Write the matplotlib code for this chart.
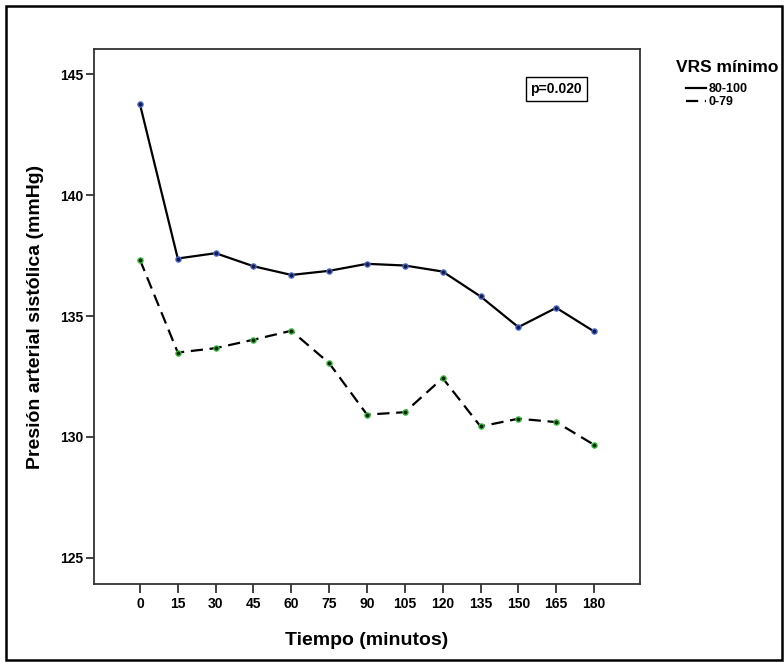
import matplotlib
matplotlib.use("Agg")
import matplotlib.pyplot as plt
from matplotlib.patches import Rectangle
from matplotlib.lines import Line2D

plt.rcParams['font.family'] = ['Liberation Sans Narrow', 'Liberation Sans', 'DejaVu Sans']

tiempo = [0, 15, 30, 45, 60, 75, 90, 105, 120, 135, 150, 165, 180]
vrs_80_100 = [143.77, 137.38, 137.60, 137.06, 136.70, 136.87, 137.16, 137.09, 136.84,
              135.81, 134.54, 135.34, 134.36]
vrs_0_79 = [137.33, 133.49, 133.67, 134.02, 134.39, 133.05, 130.92, 131.02, 132.43,
            130.43, 130.75, 130.61, 129.67]
y_ticks = [125, 130, 135, 140, 145]
series_labels = ['80-100', '0-79']
legend_title = 'VRS mínimo'
p_text = 'p=0.020'

dash = (0, (5.5, 3))

fig = plt.figure(figsize=(7.84, 6.62), dpi=100)
ax = fig.add_axes([94/784, 1-584/662, (640-94)/784, (584-49)/662])

ax.plot(tiempo, vrs_80_100, color='black', lw=1.6, linestyle='-', zorder=3,
        marker='o', markersize=3.8, markerfacecolor='#1a1a4a', markeredgecolor='#4a6fd0',
        markeredgewidth=0.9)
ax.plot(tiempo, vrs_0_79, color='black', lw=1.6, linestyle=dash, zorder=3,
        marker='o', markersize=3.8, markerfacecolor='#0a2a0a', markeredgecolor='#3cc23c',
        markeredgewidth=0.9)

ax.set_xlim(-18.2, 198.2)
ax.set_ylim(123.91, 146.05)
ax.set_xticks(tiempo)
ax.set_xticklabels([str(t) for t in tiempo])
ax.set_yticks(y_ticks)
ax.set_yticklabels([str(t) for t in y_ticks])

for s in ax.spines.values():
    s.set_color('#333333')
    s.set_linewidth(1.3)
ax.tick_params(axis='x', direction='out', length=6.5, width=1.3, color='#333333',
               labelsize=10, pad=3)
ax.tick_params(axis='y', direction='out', length=6, width=1.3, color='#333333',
               labelsize=10, pad=2)
for lab in ax.get_xticklabels() + ax.get_yticklabels():
    lab.set_fontweight('bold')

ax.set_xlabel('Tiempo (minutos)', fontsize=14, fontweight='bold',
              family=['Liberation Sans', 'DejaVu Sans'], labelpad=15)
ax.set_ylabel('Presión arterial sistólica (mmHg)', fontsize=14, fontweight='bold',
              family=['Liberation Sans', 'DejaVu Sans'], labelpad=11)

ax.text(165, 144.4, p_text, fontsize=10, fontweight='bold', ha='center', va='center',
        bbox=dict(boxstyle='square,pad=0.35', facecolor='white', edgecolor='black', lw=1.0))

fig.text(676/784, 1-67/662, legend_title, fontsize=12.5, fontweight='bold',
         family=['Liberation Sans', 'DejaVu Sans'], ha='left', va='center')

handles = [Line2D([0], [0], color='black', lw=1.6, linestyle='-'),
           Line2D([0], [0], color='black', lw=1.6, linestyle=dash)]
leg = fig.legend(handles, series_labels, loc='upper left',
                 bbox_to_anchor=(686/784, 1-83/662), frameon=False,
                 prop={'weight': 'bold', 'size': 9}, handlelength=1.6,
                 handletextpad=0.2, labelspacing=0.1, borderaxespad=0, borderpad=0)

fig.patches.append(Rectangle((6/784, 1-660/662), (782-6)/784, (660-6)/662,
                             transform=fig.transFigure, fill=False, edgecolor='black',
                             lw=1.8))

fig.savefig('out.png', dpi=100)
